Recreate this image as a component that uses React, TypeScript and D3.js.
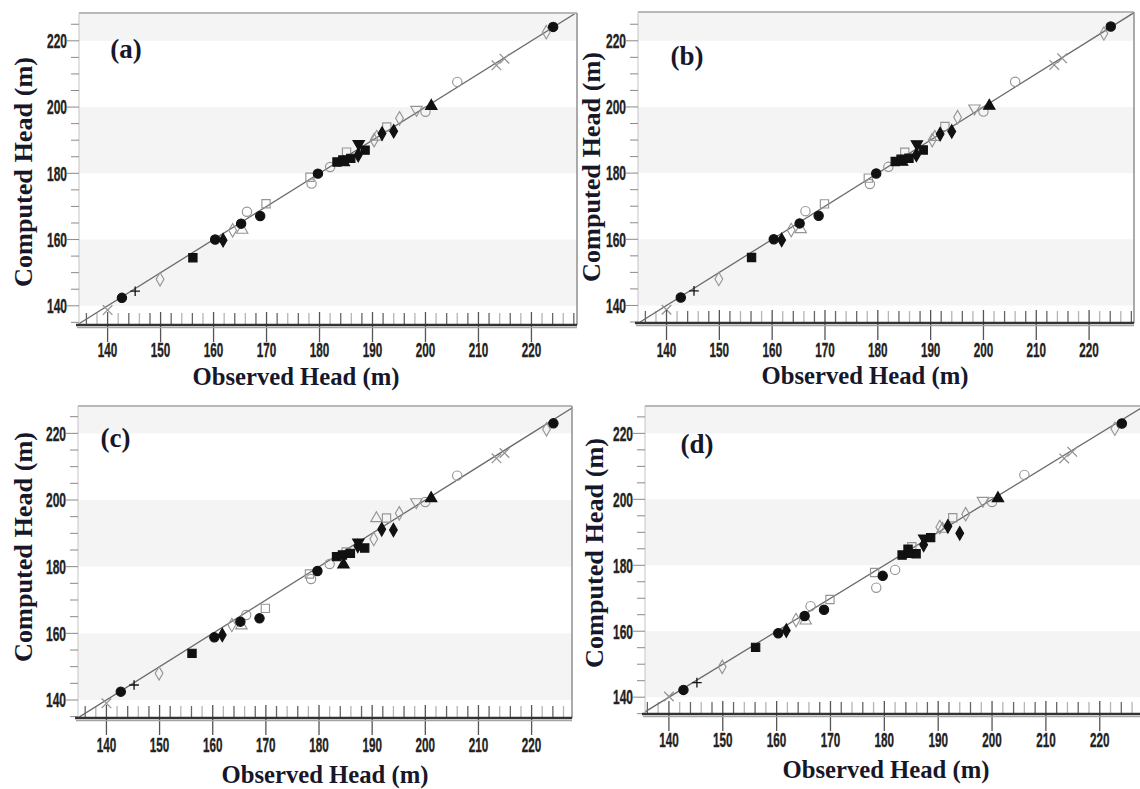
import React from 'react';
import * as d3 from 'd3';

// ---------- data ----------
const observed = [140.0, 142.7, 145.2, 149.9, 156.1, 160.3, 161.8, 163.6, 165.2, 165.4, 166.3, 168.8, 169.9, 178.5, 178.2, 179.7, 182.0, 183.3, 184.4, 184.6, 185.9, 185.1, 187.3, 187.4, 188.6, 190.3, 190.8, 191.8, 192.7, 194.0, 195.1, 198.3, 200.0, 201.1, 206.0, 213.4, 214.9, 222.8, 224.1];
const computedA = [138.7, 142.4, 144.4, 148.0, 154.5, 160.0, 159.8, 162.8, 164.8, 162.9, 168.4, 167.1, 170.8, 176.9, 178.8, 179.9, 181.9, 183.4, 184.0, 183.3, 184.5, 186.4, 185.5, 188.9, 187.0, 190.0, 191.0, 192.0, 194.0, 192.7, 196.6, 199.2, 198.6, 200.3, 207.6, 212.6, 214.6, 222.6, 224.2];
const computedB = [138.7, 142.4, 144.4, 148.0, 154.5, 160.0, 159.8, 162.8, 164.8, 163.0, 168.5, 167.1, 170.7, 176.7, 178.5, 179.9, 181.9, 183.5, 184.2, 183.4, 184.5, 186.3, 185.5, 188.8, 187.0, 190.0, 190.9, 191.8, 194.1, 192.6, 196.9, 199.6, 198.6, 200.3, 207.6, 212.7, 214.7, 222.2, 224.3];
const computedC = [139.0, 142.5, 144.5, 148.0, 154.0, 158.8, 159.5, 162.5, 163.5, 162.3, 165.5, 164.5, 167.5, 176.3, 177.8, 178.7, 180.8, 183.0, 183.5, 180.6, 184.0, 184.4, 186.2, 187.3, 185.6, 188.3, 194.5, 191.2, 194.6, 191.0, 196.0, 199.4, 199.4, 200.5, 207.3, 212.5, 214.1, 221.2, 223.0];
const computedD = [140.2, 142.2, 144.4, 149.2, 155.1, 159.4, 160.2, 163.4, 164.6, 163.2, 167.6, 166.5, 169.6, 173.2, 177.8, 176.8, 178.6, 183.1, 184.9, 183.4, 183.5, 185.6, 186.2, 188.2, 188.4, 191.6, 191.0, 191.8, 194.4, 189.7, 195.5, 199.6, 199.2, 200.3, 207.4, 212.4, 214.4, 221.4, 223.0];
const markerShapes = ['times', 'circle', 'plus', 'diamond', 'square', 'circle', 'diamond', 'diamond', 'circle', 'triangle', 'circle', 'circle', 'square', 'circle', 'square', 'circle', 'circle', 'square', 'square', 'triangle', 'square', 'square', 'diamond', 'triangleDown', 'square', 'diamond', 'triangle', 'diamond', 'square', 'diamond', 'diamond', 'triangleDown', 'circle', 'triangle', 'circle', 'times', 'times', 'diamond', 'circle'];
const markerFilled = [false, true, true, false, true, true, true, false, true, false, false, true, false, false, false, true, false, true, true, true, true, false, true, true, true, false, false, true, false, true, false, false, false, true, false, false, false, false, true];
const panelLabels = ['(a)', '(b)', '(c)', '(d)'];
const xTickValues = [140, 150, 160, 170, 180, 190, 200, 210, 220];
const yTickValues = [140, 160, 180, 200, 220];
const grayBands = [[140, 160], [180, 200], [220, 240]];
const xTitle = 'Observed Head (m)';
const yTitle = 'Computed Head (m)';

// ---------- layout ----------
const panels = [
  { label: panelLabels[0], values: computedA, left: 79, right: 577, top: 13, bottom: 325, xDom: [134.6, 228.6], yDom: [134.2, 228.4], tagX: 126, tagY: 58, yTitleX: 32, yTitleY: 172, xTitleX: 296, xTitleY: 385, xTickY: 356.5 },
  { label: panelLabels[1], values: computedB, left: 638, right: 1134, top: 12, bottom: 323, xDom: [134.6, 228.5], yDom: [134.7, 228.7], tagX: 687, tagY: 65, yTitleX: 600, yTitleY: 167, xTitleX: 865, xTitleY: 384, xTickY: 357 },
  { label: panelLabels[2], values: computedC, left: 78, right: 572, top: 406, bottom: 718, xDom: [134.65, 227.6], yDom: [134.6, 228.2], tagX: 115.5, tagY: 447, yTitleX: 32, yTitleY: 547, xTitleX: 325, xTitleY: 783, xTickY: 751.5 },
  { label: panelLabels[3], values: computedD, left: 645, right: 1145, top: 406, bottom: 714, xDom: [135.56, 228.4], yDom: [134.9, 228.3], tagX: 697, tagY: 453, yTitleX: 603, yTitleY: 553, xTitleX: 886, xTitleY: 778, xTickY: 746.5 },
];

const serif = '"Liberation Serif", "Times New Roman", serif';
const narrow = '"Liberation Sans Narrow", "Liberation Sans", Arial, sans-serif';
const titleColor = '#17172a';

function markerPath(shape: string): string {
  const s = 4.8;
  switch (shape) {
    case 'circle': return d3.symbol().type(d3.symbolCircle).size(68)()!;
    case 'square': return d3.symbol().type(d3.symbolSquare).size(68)()!;
    case 'triangle': return d3.symbol().type(d3.symbolTriangle).size(56)()!;
    case 'triangleDown': return d3.symbol().type(d3.symbolTriangle).size(56)()!;
    case 'diamond': return d3.symbol().type(d3.symbolDiamond).size(52)()!;
    case 'times': return `M${-s},${-s}L${s},${s}M${-s},${s}L${s},${-s}`;
    case 'plus': return `M${-s},0L${s},0M0,${-s}L0,${s}`;
    default: return d3.symbol().type(d3.symbolCircle).size(68)()!;
  }
}

function Panel({ p, idx }: { p: any; idx: number }) {
  const x = d3.scaleLinear().domain(p.xDom).range([p.left, p.right]);
  const y = d3.scaleLinear().domain(p.yDom).range([p.bottom, p.top]);
  const clipId = `clip-${idx}`;
  const w = p.right - p.left;
  const minorY = d3.range(Math.ceil(p.yDom[0] / 5) * 5, p.yDom[1], 5);
  const rug = d3.range(Math.ceil(p.xDom[0] / 2) * 2, p.xDom[1], 2).filter((v: number) => v % 10 !== 0);
  const d0 = Math.max(p.xDom[0], p.yDom[0]);
  const d1 = Math.min(p.xDom[1], p.yDom[1]);
  const order = d3.range(observed.length).sort((a: number, b: number) => Number(markerFilled[a]) - Number(markerFilled[b]));
  return (
    <g>
      <defs>
        <clipPath id={clipId}>
          <rect x={p.left} y={p.top} width={w} height={p.bottom - p.top} />
        </clipPath>
      </defs>
      <g clipPath={`url(#${clipId})`}>
        <rect x={p.left} y={p.top} width={w} height={p.bottom - p.top} fill="#ffffff" />
        {grayBands.map((b, i) => (
          <rect key={i} x={p.left} width={w} y={y(Math.min(b[1], p.yDom[1]))} height={y(b[0]) - y(Math.min(b[1], p.yDom[1]))} fill="#f4f4f4" />
        ))}
        {rug.map((v: number) => (
          <line key={v} x1={x(v)} x2={x(v)} y1={p.bottom - 12} y2={p.bottom} stroke={v % 4 === 0 ? '#666' : '#b5b5b5'} strokeWidth={1.3} />
        ))}
        <line x1={x(d0)} y1={y(d0)} x2={x(d1)} y2={y(d1)} stroke="#6a6a6a" strokeWidth={1.3} />
        {order.map((i: number) => {
          const shape = markerShapes[i];
          const filled = markerFilled[i];
          const lineOnly = shape === 'times' || shape === 'plus';
          const rot = shape === 'triangleDown' ? ' rotate(180)' : '';
          return (
            <path
              key={i}
              d={markerPath(shape)}
              transform={`translate(${x(observed[i])},${y(p.values[i])})${rot}`}
              fill={filled && !lineOnly ? '#111' : 'none'}
              stroke={filled ? '#111' : '#959595'}
              strokeWidth={lineOnly ? 1.3 : 1.15}
            />
          );
        })}
      </g>
      {/* frame */}
      <line x1={p.left} x2={p.right} y1={p.top} y2={p.top} stroke="#b8b8b8" strokeWidth={2} />
      <line x1={p.left} x2={p.left} y1={p.top} y2={p.bottom} stroke="#c4c4c4" strokeWidth={1} />
      <line x1={p.right} x2={p.right} y1={p.top} y2={p.bottom} stroke="#8f8f8f" strokeWidth={1.5} />
      {/* y axis ticks */}
      {minorY.map((v: number) => (
        <line key={v} x1={p.left - (v % 20 === 0 ? 12 : 8)} x2={p.left} y1={y(v)} y2={y(v)} stroke="#8a8a8a" strokeWidth={1} />
      ))}
      {yTickValues.map((v) => (
        <text key={v} x={p.left - 12} y={y(v) + 7.3} textAnchor="end" fontFamily={narrow} fontWeight="bold" fontSize={20} textLength={20} lengthAdjust="spacingAndGlyphs" fill="#222" stroke="#222" strokeWidth={0.35}>{v}</text>
      ))}
      {/* x axis */}
      {xTickValues.map((v) => (
        <g key={v}>
          <line x1={x(v)} x2={x(v)} y1={p.bottom - 13} y2={p.bottom + 17} stroke="#555" strokeWidth={1.3} />
          <text x={x(v)} y={p.xTickY} textAnchor="middle" fontFamily={narrow} fontWeight="bold" fontSize={20.5} textLength={19.5} lengthAdjust="spacingAndGlyphs" fill="#222" stroke="#222" strokeWidth={0.35}>{v}</text>
        </g>
      ))}
      <line x1={p.left - 3} x2={p.right} y1={p.bottom} y2={p.bottom} stroke="#333" strokeWidth={2.6} />
      <line x1={p.left - 2} x2={p.right} y1={p.bottom + 2.6} y2={p.bottom + 2.6} stroke="#a5a5a5" strokeWidth={1.4} />
      {/* titles */}
      <text x={p.tagX} y={p.tagY} textAnchor="middle" fontFamily={serif} fontWeight="bold" fontSize={27} fill={titleColor}>{p.label}</text>
      <text x={p.xTitleX} y={p.xTitleY} textAnchor="middle" fontFamily={serif} fontWeight="bold" fontSize={24.7} fill={titleColor}>{xTitle}</text>
      <text transform={`translate(${p.yTitleX},${p.yTitleY}) rotate(-90)`} textAnchor="middle" fontFamily={serif} fontWeight="bold" fontSize={26.2} fill={titleColor}>{yTitle}</text>
    </g>
  );
}

export default function App() {
  return (
    <div style={{ position: 'absolute', left: 0, top: 0, width: 1140, height: 789, background: '#fff' }}>
      <svg width={1140} height={789} style={{ display: 'block' }}>
        <rect x={0} y={0} width={1140} height={789} fill="#fff" />
        {panels.map((p, i) => (
          <Panel key={i} p={p} idx={i} />
        ))}
      </svg>
    </div>
  );
}
